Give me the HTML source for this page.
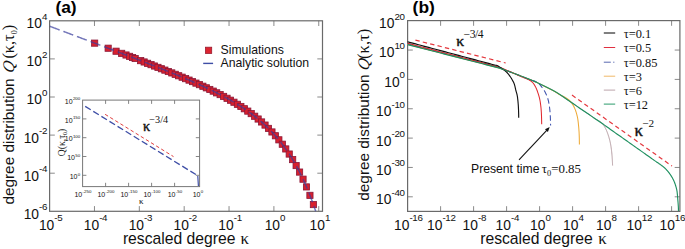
<!DOCTYPE html><html><head><meta charset="utf-8"><style>html,body{margin:0;padding:0;background:#fff;}svg{display:block;font-family:"Liberation Sans",sans-serif;}</style></head><body>
<svg width="685" height="249" viewBox="0 0 685 249">
<rect width="685" height="249" fill="#fff"/>
<path d="M94.46,211.30V206.10M94.46,20.80V26.00" stroke="#8a8a8a" stroke-width="1.0"/>
<path d="M139.32,211.30V206.10M139.32,20.80V26.00" stroke="#8a8a8a" stroke-width="1.0"/>
<path d="M184.18,211.30V206.10M184.18,20.80V26.00" stroke="#8a8a8a" stroke-width="1.0"/>
<path d="M229.04,211.30V206.10M229.04,20.80V26.00" stroke="#8a8a8a" stroke-width="1.0"/>
<path d="M273.90,211.30V206.10M273.90,20.80V26.00" stroke="#8a8a8a" stroke-width="1.0"/>
<path d="M318.76,211.30V206.10M318.76,20.80V26.00" stroke="#8a8a8a" stroke-width="1.0"/>
<path d="M49.60,173.20H54.80M322.50,173.20H317.30" stroke="#8a8a8a" stroke-width="1.0"/>
<path d="M49.60,135.10H54.80M322.50,135.10H317.30" stroke="#8a8a8a" stroke-width="1.0"/>
<path d="M49.60,97.00H54.80M322.50,97.00H317.30" stroke="#8a8a8a" stroke-width="1.0"/>
<path d="M49.60,58.90H54.80M322.50,58.90H317.30" stroke="#8a8a8a" stroke-width="1.0"/>
<rect x="49.60" y="20.80" width="272.90" height="190.50" fill="none" stroke="#6a6a6a" stroke-width="1.2"/>
<text x="38.92" y="229.90" font-size="13.8" fill="#111">10</text>
<text x="54.27" y="221.30" font-size="9.8" fill="#111" letter-spacing="-0.3">-5</text>
<text x="83.78" y="229.90" font-size="13.8" fill="#111">10</text>
<text x="99.13" y="221.30" font-size="9.8" fill="#111" letter-spacing="-0.3">-4</text>
<text x="128.64" y="229.90" font-size="13.8" fill="#111">10</text>
<text x="143.99" y="221.30" font-size="9.8" fill="#111" letter-spacing="-0.3">-3</text>
<text x="173.50" y="229.90" font-size="13.8" fill="#111">10</text>
<text x="188.85" y="221.30" font-size="9.8" fill="#111" letter-spacing="-0.3">-2</text>
<text x="218.36" y="229.90" font-size="13.8" fill="#111">10</text>
<text x="233.71" y="221.30" font-size="9.8" fill="#111" letter-spacing="-0.3">-1</text>
<text x="264.70" y="229.90" font-size="13.8" fill="#111">10</text>
<text x="280.05" y="221.30" font-size="9.8" fill="#111" letter-spacing="-0.3">0</text>
<text x="309.56" y="229.90" font-size="13.8" fill="#111">10</text>
<text x="324.91" y="221.30" font-size="9.8" fill="#111" letter-spacing="-0.3">1</text>
<text x="23.64" y="218.70" font-size="13.8" fill="#111">10</text>
<text x="38.99" y="210.10" font-size="9.8" fill="#111" letter-spacing="-0.3">-6</text>
<text x="23.64" y="180.60" font-size="13.8" fill="#111">10</text>
<text x="38.99" y="172.00" font-size="9.8" fill="#111" letter-spacing="-0.3">-4</text>
<text x="23.64" y="142.50" font-size="13.8" fill="#111">10</text>
<text x="38.99" y="133.90" font-size="9.8" fill="#111" letter-spacing="-0.3">-2</text>
<text x="26.61" y="104.40" font-size="13.8" fill="#111">10</text>
<text x="41.95" y="95.80" font-size="9.8" fill="#111" letter-spacing="-0.3">0</text>
<text x="26.61" y="66.30" font-size="13.8" fill="#111">10</text>
<text x="41.95" y="57.70" font-size="9.8" fill="#111" letter-spacing="-0.3">2</text>
<text x="26.61" y="28.20" font-size="13.8" fill="#111">10</text>
<text x="41.95" y="19.60" font-size="9.8" fill="#111" letter-spacing="-0.3">4</text>
<text x="122.9" y="244.0" font-size="15.7" fill="#111">rescaled degree</text>
<text x="240.4" y="244.0" font-size="16.8" fill="#111" font-family="'Liberation Serif', serif">κ</text>
<text transform="translate(14.1,204.6) rotate(-90)" font-size="15.35" fill="#111">degree distribution</text>
<text transform="translate(14.1,73.6) rotate(-90) skewX(-12)" font-size="16.2" font-style="italic" fill="#111" font-family="'Liberation Serif', serif">Q</text>
<text transform="translate(14.1,58.6) rotate(-90)" font-size="16.3" fill="#111" font-family="'Liberation Serif', serif">(κ,τ<tspan font-size="8" dy="3.2">0</tspan><tspan dy="-3.2">)</tspan></text>
<text x="55.4" y="13.1" font-size="17.4" font-weight="bold" fill="#000">(a)</text>
<rect x="91.56" y="40.03" width="6.2" height="6.2" fill="#d8202e" stroke="#8a1838" stroke-width="0.8"/>
<rect x="105.06" y="45.12" width="6.2" height="6.2" fill="#d8202e" stroke="#8a1838" stroke-width="0.8"/>
<rect x="112.96" y="48.12" width="6.2" height="6.2" fill="#d8202e" stroke="#8a1838" stroke-width="0.8"/>
<rect x="118.57" y="50.25" width="6.2" height="6.2" fill="#d8202e" stroke="#8a1838" stroke-width="0.8"/>
<rect x="122.92" y="51.90" width="6.2" height="6.2" fill="#d8202e" stroke="#8a1838" stroke-width="0.8"/>
<rect x="126.47" y="53.26" width="6.2" height="6.2" fill="#d8202e" stroke="#8a1838" stroke-width="0.8"/>
<rect x="129.47" y="54.41" width="6.2" height="6.2" fill="#d8202e" stroke="#8a1838" stroke-width="0.8"/>
<rect x="132.07" y="55.41" width="6.2" height="6.2" fill="#d8202e" stroke="#8a1838" stroke-width="0.8"/>
<rect x="137.59" y="57.54" width="6.2" height="6.2" fill="#d8202e" stroke="#8a1838" stroke-width="0.8"/>
<rect x="141.04" y="58.87" width="6.2" height="6.2" fill="#d8202e" stroke="#8a1838" stroke-width="0.8"/>
<rect x="144.49" y="60.21" width="6.2" height="6.2" fill="#d8202e" stroke="#8a1838" stroke-width="0.8"/>
<rect x="147.95" y="61.56" width="6.2" height="6.2" fill="#d8202e" stroke="#8a1838" stroke-width="0.8"/>
<rect x="151.40" y="62.92" width="6.2" height="6.2" fill="#d8202e" stroke="#8a1838" stroke-width="0.8"/>
<rect x="154.86" y="64.28" width="6.2" height="6.2" fill="#d8202e" stroke="#8a1838" stroke-width="0.8"/>
<rect x="158.31" y="65.65" width="6.2" height="6.2" fill="#d8202e" stroke="#8a1838" stroke-width="0.8"/>
<rect x="161.77" y="67.03" width="6.2" height="6.2" fill="#d8202e" stroke="#8a1838" stroke-width="0.8"/>
<rect x="165.22" y="68.41" width="6.2" height="6.2" fill="#d8202e" stroke="#8a1838" stroke-width="0.8"/>
<rect x="168.67" y="69.81" width="6.2" height="6.2" fill="#d8202e" stroke="#8a1838" stroke-width="0.8"/>
<rect x="172.13" y="71.22" width="6.2" height="6.2" fill="#d8202e" stroke="#8a1838" stroke-width="0.8"/>
<rect x="175.58" y="72.65" width="6.2" height="6.2" fill="#d8202e" stroke="#8a1838" stroke-width="0.8"/>
<rect x="179.04" y="74.08" width="6.2" height="6.2" fill="#d8202e" stroke="#8a1838" stroke-width="0.8"/>
<rect x="182.49" y="75.54" width="6.2" height="6.2" fill="#d8202e" stroke="#8a1838" stroke-width="0.8"/>
<rect x="185.95" y="77.01" width="6.2" height="6.2" fill="#d8202e" stroke="#8a1838" stroke-width="0.8"/>
<rect x="189.40" y="78.50" width="6.2" height="6.2" fill="#d8202e" stroke="#8a1838" stroke-width="0.8"/>
<rect x="192.85" y="80.02" width="6.2" height="6.2" fill="#d8202e" stroke="#8a1838" stroke-width="0.8"/>
<rect x="196.31" y="81.56" width="6.2" height="6.2" fill="#d8202e" stroke="#8a1838" stroke-width="0.8"/>
<rect x="199.76" y="83.13" width="6.2" height="6.2" fill="#d8202e" stroke="#8a1838" stroke-width="0.8"/>
<rect x="203.22" y="84.73" width="6.2" height="6.2" fill="#d8202e" stroke="#8a1838" stroke-width="0.8"/>
<rect x="206.67" y="86.36" width="6.2" height="6.2" fill="#d8202e" stroke="#8a1838" stroke-width="0.8"/>
<rect x="210.12" y="88.03" width="6.2" height="6.2" fill="#d8202e" stroke="#8a1838" stroke-width="0.8"/>
<rect x="213.58" y="89.74" width="6.2" height="6.2" fill="#d8202e" stroke="#8a1838" stroke-width="0.8"/>
<rect x="217.03" y="91.50" width="6.2" height="6.2" fill="#d8202e" stroke="#8a1838" stroke-width="0.8"/>
<rect x="220.49" y="93.32" width="6.2" height="6.2" fill="#d8202e" stroke="#8a1838" stroke-width="0.8"/>
<rect x="223.94" y="95.18" width="6.2" height="6.2" fill="#d8202e" stroke="#8a1838" stroke-width="0.8"/>
<rect x="227.40" y="97.12" width="6.2" height="6.2" fill="#d8202e" stroke="#8a1838" stroke-width="0.8"/>
<rect x="230.85" y="99.12" width="6.2" height="6.2" fill="#d8202e" stroke="#8a1838" stroke-width="0.8"/>
<rect x="234.30" y="101.20" width="6.2" height="6.2" fill="#d8202e" stroke="#8a1838" stroke-width="0.8"/>
<rect x="237.76" y="103.37" width="6.2" height="6.2" fill="#d8202e" stroke="#8a1838" stroke-width="0.8"/>
<rect x="241.21" y="105.64" width="6.2" height="6.2" fill="#d8202e" stroke="#8a1838" stroke-width="0.8"/>
<rect x="244.67" y="108.02" width="6.2" height="6.2" fill="#d8202e" stroke="#8a1838" stroke-width="0.8"/>
<rect x="248.12" y="110.51" width="6.2" height="6.2" fill="#d8202e" stroke="#8a1838" stroke-width="0.8"/>
<rect x="251.58" y="113.14" width="6.2" height="6.2" fill="#d8202e" stroke="#8a1838" stroke-width="0.8"/>
<rect x="255.03" y="115.92" width="6.2" height="6.2" fill="#d8202e" stroke="#8a1838" stroke-width="0.8"/>
<rect x="258.48" y="118.86" width="6.2" height="6.2" fill="#d8202e" stroke="#8a1838" stroke-width="0.8"/>
<rect x="261.94" y="121.98" width="6.2" height="6.2" fill="#d8202e" stroke="#8a1838" stroke-width="0.8"/>
<rect x="265.39" y="125.31" width="6.2" height="6.2" fill="#d8202e" stroke="#8a1838" stroke-width="0.8"/>
<rect x="268.85" y="128.86" width="6.2" height="6.2" fill="#d8202e" stroke="#8a1838" stroke-width="0.8"/>
<rect x="272.30" y="132.66" width="6.2" height="6.2" fill="#d8202e" stroke="#8a1838" stroke-width="0.8"/>
<rect x="275.76" y="136.73" width="6.2" height="6.2" fill="#d8202e" stroke="#8a1838" stroke-width="0.8"/>
<rect x="279.21" y="141.12" width="6.2" height="6.2" fill="#d8202e" stroke="#8a1838" stroke-width="0.8"/>
<rect x="282.66" y="145.84" width="6.2" height="6.2" fill="#d8202e" stroke="#8a1838" stroke-width="0.8"/>
<rect x="286.12" y="150.95" width="6.2" height="6.2" fill="#d8202e" stroke="#8a1838" stroke-width="0.8"/>
<rect x="289.57" y="156.48" width="6.2" height="6.2" fill="#d8202e" stroke="#8a1838" stroke-width="0.8"/>
<rect x="293.03" y="162.47" width="6.2" height="6.2" fill="#d8202e" stroke="#8a1838" stroke-width="0.8"/>
<rect x="296.48" y="168.98" width="6.2" height="6.2" fill="#d8202e" stroke="#8a1838" stroke-width="0.8"/>
<rect x="299.93" y="176.08" width="6.2" height="6.2" fill="#d8202e" stroke="#8a1838" stroke-width="0.8"/>
<rect x="303.39" y="183.81" width="6.2" height="6.2" fill="#d8202e" stroke="#8a1838" stroke-width="0.8"/>
<rect x="306.84" y="192.25" width="6.2" height="6.2" fill="#d8202e" stroke="#8a1838" stroke-width="0.8"/>
<rect x="310.30" y="201.48" width="6.2" height="6.2" fill="#d8202e" stroke="#8a1838" stroke-width="0.8"/>
<path d="M49.80,26.30 L50.34,26.50 L50.88,26.70 L51.42,26.90 L51.96,27.10 L52.50,27.31 L53.04,27.51 L53.58,27.71 L54.12,27.91 L54.65,28.11 L55.19,28.32 L55.73,28.52 L56.27,28.72 L56.81,28.92 L57.35,29.12 L57.89,29.33 L58.43,29.53 L58.97,29.73 L59.51,29.93 L60.05,30.13 L60.59,30.34 L61.13,30.54 L61.67,30.74 L62.21,30.94 L62.75,31.14 L63.28,31.35 L63.82,31.55 L64.36,31.75 L64.90,31.95 L65.44,32.15 L65.98,32.36 L66.52,32.56 L67.06,32.76 L67.60,32.96 L68.14,33.17 L68.68,33.37 L69.22,33.57 L69.76,33.77 L70.30,33.97 L70.84,34.18 L71.38,34.38 L71.92,34.58 L72.45,34.78 L72.99,34.99 L73.53,35.19 L74.07,35.39 L74.61,35.59 L75.15,35.80 L75.69,36.00 L76.23,36.20 L76.77,36.40 L77.31,36.60 L77.85,36.81 L78.39,37.01 L78.93,37.21 L79.47,37.41 L80.01,37.62 L80.55,37.82 L81.09,38.02 L81.62,38.23 L82.16,38.43 L82.70,38.63 L83.24,38.83 L83.78,39.04 L84.32,39.24 L84.86,39.44 L85.40,39.64 L85.94,39.85 L86.48,40.05 L87.02,40.25 L87.56,40.45 L88.10,40.66 L88.64,40.86 L89.18,41.06 L89.72,41.27 L90.25,41.47 L90.79,41.67 L91.33,41.88 L91.87,42.08 L92.41,42.28 L92.95,42.48 L93.49,42.69 L94.03,42.89 L94.57,43.09 L95.11,43.30 L95.65,43.50 L96.19,43.70 L96.73,43.91 L97.27,44.11 L97.81,44.31 L98.35,44.52 L98.89,44.72 L99.42,44.92 L99.96,45.13 L100.50,45.33 L101.04,45.53 L101.58,45.74 L102.12,45.94 L102.66,46.14 L103.20,46.35 L103.74,46.55 L104.28,46.76 L104.82,46.96 L105.36,47.16 L105.90,47.37 L106.44,47.57 L106.98,47.77 L107.52,47.98 L108.06,48.18 L108.59,48.39 L109.13,48.59 L109.67,48.80 L110.21,49.00 L110.75,49.20 L111.29,49.41 L111.83,49.61 L112.37,49.82 L112.91,50.02 L113.45,50.23 L113.99,50.43 L114.53,50.63 L115.07,50.84 L115.61,51.04 L116.15,51.25 L116.69,51.45 L117.22,51.66 L117.76,51.86 L118.30,52.07 L118.84,52.27 L119.38,52.48 L119.92,52.68 L120.46,52.89 L121.00,53.09 L121.54,53.30 L122.08,53.50 L122.62,53.71 L123.16,53.91 L123.70,54.12 L124.24,54.33 L124.78,54.53 L125.32,54.74 L125.86,54.94 L126.39,55.15 L126.93,55.36 L127.47,55.56 L128.01,55.77 L128.55,55.97 L129.09,56.18 L129.63,56.39 L130.17,56.59 L130.71,56.80 L131.25,57.01 L131.79,57.21 L132.33,57.42 L132.87,57.63 L133.41,57.83 L133.95,58.04 L134.49,58.25 L135.03,58.45 L135.56,58.66 L136.10,58.87 L136.64,59.08 L137.18,59.28 L137.72,59.49 L138.26,59.70 L138.80,59.91 L139.34,60.12 L139.88,60.32 L140.42,60.53 L140.96,60.74 L141.50,60.95 L142.04,61.16 L142.58,61.37 L143.12,61.58 L143.66,61.78 L144.19,61.99 L144.73,62.20 L145.27,62.41 L145.81,62.62 L146.35,62.83 L146.89,63.04 L147.43,63.25 L147.97,63.46 L148.51,63.67 L149.05,63.88 L149.59,64.09 L150.13,64.30 L150.67,64.51 L151.21,64.72 L151.75,64.94 L152.29,65.15 L152.83,65.36 L153.36,65.57 L153.90,65.78 L154.44,65.99 L154.98,66.21 L155.52,66.42 L156.06,66.63 L156.60,66.84 L157.14,67.06 L157.68,67.27 L158.22,67.48 L158.76,67.70 L159.30,67.91 L159.84,68.12 L160.38,68.34 L160.92,68.55 L161.46,68.76 L161.99,68.98 L162.53,69.19 L163.07,69.41 L163.61,69.62 L164.15,69.84 L164.69,70.06 L165.23,70.27 L165.77,70.49 L166.31,70.70 L166.85,70.92 L167.39,71.14 L167.93,71.35 L168.47,71.57 L169.01,71.79 L169.55,72.01 L170.09,72.23 L170.63,72.44 L171.16,72.66 L171.70,72.88 L172.24,73.10 L172.78,73.32 L173.32,73.54 L173.86,73.76 L174.40,73.98 L174.94,74.20 L175.48,74.42 L176.02,74.65 L176.56,74.87 L177.10,75.09 L177.64,75.31 L178.18,75.54 L178.72,75.76 L179.26,75.98 L179.80,76.21 L180.33,76.43 L180.87,76.66 L181.41,76.88 L181.95,77.11 L182.49,77.33 L183.03,77.56 L183.57,77.79 L184.11,78.01 L184.65,78.24 L185.19,78.47 L185.73,78.70 L186.27,78.93 L186.81,79.15 L187.35,79.38 L187.89,79.61 L188.43,79.85 L188.96,80.08 L189.50,80.31 L190.04,80.54 L190.58,80.77 L191.12,81.01 L191.66,81.24 L192.20,81.47 L192.74,81.71 L193.28,81.94 L193.82,82.18 L194.36,82.42 L194.90,82.65 L195.44,82.89 L195.98,83.13 L196.52,83.37 L197.06,83.61 L197.60,83.85 L198.13,84.09 L198.67,84.33 L199.21,84.57 L199.75,84.82 L200.29,85.06 L200.83,85.30 L201.37,85.55 L201.91,85.79 L202.45,86.04 L202.99,86.29 L203.53,86.53 L204.07,86.78 L204.61,87.03 L205.15,87.28 L205.69,87.53 L206.23,87.79 L206.77,88.04 L207.30,88.29 L207.84,88.55 L208.38,88.80 L208.92,89.06 L209.46,89.31 L210.00,89.57 L210.54,89.83 L211.08,90.09 L211.62,90.35 L212.16,90.61 L212.70,90.87 L213.24,91.14 L213.78,91.40 L214.32,91.67 L214.86,91.93 L215.40,92.20 L215.93,92.47 L216.47,92.74 L217.01,93.01 L217.55,93.28 L218.09,93.56 L218.63,93.83 L219.17,94.11 L219.71,94.39 L220.25,94.66 L220.79,94.94 L221.33,95.22 L221.87,95.51 L222.41,95.79 L222.95,96.08 L223.49,96.36 L224.03,96.65 L224.57,96.94 L225.10,97.23 L225.64,97.52 L226.18,97.81 L226.72,98.11 L227.26,98.41 L227.80,98.70 L228.34,99.00 L228.88,99.30 L229.42,99.61 L229.96,99.91 L230.50,100.22 L231.04,100.53 L231.58,100.84 L232.12,101.15 L232.66,101.46 L233.20,101.78 L233.73,102.09 L234.27,102.41 L234.81,102.73 L235.35,103.06 L235.89,103.38 L236.43,103.71 L236.97,104.04 L237.51,104.37 L238.05,104.70 L238.59,105.04 L239.13,105.38 L239.67,105.72 L240.21,106.06 L240.75,106.40 L241.29,106.75 L241.83,107.10 L242.37,107.45 L242.90,107.81 L243.44,108.16 L243.98,108.52 L244.52,108.88 L245.06,109.25 L245.60,109.62 L246.14,109.99 L246.68,110.36 L247.22,110.73 L247.76,111.11 L248.30,111.49 L248.84,111.88 L249.38,112.27 L249.92,112.66 L250.46,113.05 L251.00,113.45 L251.54,113.85 L252.07,114.25 L252.61,114.66 L253.15,115.07 L253.69,115.48 L254.23,115.90 L254.77,116.32 L255.31,116.74 L255.85,117.17 L256.39,117.60 L256.93,118.04 L257.47,118.47 L258.01,118.92 L258.55,119.36 L259.09,119.82 L259.63,120.27 L260.17,120.73 L260.70,121.19 L261.24,121.66 L261.78,122.13 L262.32,122.61 L262.86,123.09 L263.40,123.58 L263.94,124.07 L264.48,124.56 L265.02,125.06 L265.56,125.57 L266.10,126.08 L266.64,126.60 L267.18,127.12 L267.72,127.64 L268.26,128.17 L268.80,128.71 L269.34,129.25 L269.87,129.80 L270.41,130.35 L270.95,130.91 L271.49,131.48 L272.03,132.05 L272.57,132.62 L273.11,133.21 L273.65,133.80 L274.19,134.39 L274.73,135.00 L275.27,135.61 L275.81,136.22 L276.35,136.84 L276.89,137.47 L277.43,138.11 L277.97,138.76 L278.51,139.41 L279.04,140.06 L279.58,140.73 L280.12,141.41 L280.66,142.09 L281.20,142.78 L281.74,143.47 L282.28,144.18 L282.82,144.89 L283.36,145.62 L283.90,146.35 L284.44,147.09 L284.98,147.84 L285.52,148.59 L286.06,149.36 L286.60,150.14 L287.14,150.92 L287.67,151.72 L288.21,152.52 L288.75,153.34 L289.29,154.16 L289.83,155.00 L290.37,155.85 L290.91,156.70 L291.45,157.57 L291.99,158.45 L292.53,159.34 L293.07,160.24 L293.61,161.15 L294.15,162.08 L294.69,163.01 L295.23,163.96 L295.77,164.92 L296.31,165.89 L296.84,166.88 L297.38,167.88 L297.92,168.89 L298.46,169.92 L299.00,170.96 L299.54,172.01 L300.08,173.08 L300.62,174.16 L301.16,175.25 L301.70,176.36 L302.24,177.49 L302.78,178.63 L303.32,179.78 L303.86,180.96 L304.40,182.14 L304.94,183.35 L305.48,184.57 L306.01,185.80 L306.55,187.06 L307.09,188.33 L307.63,189.62 L308.17,190.93 L308.71,192.25 L309.25,193.60 L309.79,194.96 L310.33,196.34 L310.87,197.74 L311.41,199.17 L311.95,200.61 L312.49,202.07 L313.03,203.55 L313.57,205.06 L314.11,206.58 L314.64,208.13 L315.18,209.70 L315.72,211.29" fill="none" stroke="#3a3f9c" stroke-opacity="0.7" stroke-width="1.5" stroke-dasharray="10.5,4"/>
<rect x="205.5" y="47.2" width="6.2" height="6.2" fill="#dc2430" stroke="#9a1a2e" stroke-width="0.8"/>
<path d="M203.2,63.4H213.1" stroke="#3e4ea6" stroke-width="1.4"/>
<text x="220.5" y="54.2" font-size="12.25" fill="#111">Simulations</text>
<text x="220.5" y="66.5" font-size="12.25" fill="#111">Analytic solution</text>
<rect x="82.6" y="100.1" width="117.0" height="86.5" fill="#fff"/>
<path d="M105.60,186.60V182.80M105.60,100.10V103.90" stroke="#777" stroke-width="0.9"/>
<path d="M128.60,186.60V182.80M128.60,100.10V103.90" stroke="#777" stroke-width="0.9"/>
<path d="M151.60,186.60V182.80M151.60,100.10V103.90" stroke="#777" stroke-width="0.9"/>
<path d="M174.60,186.60V182.80M174.60,100.10V103.90" stroke="#777" stroke-width="0.9"/>
<path d="M82.60,175.30H86.40M199.60,175.30H195.80" stroke="#777" stroke-width="0.9"/>
<path d="M82.60,156.50H86.40M199.60,156.50H195.80" stroke="#777" stroke-width="0.9"/>
<path d="M82.60,137.70H86.40M199.60,137.70H195.80" stroke="#777" stroke-width="0.9"/>
<path d="M82.60,118.90H86.40M199.60,118.90H195.80" stroke="#777" stroke-width="0.9"/>
<rect x="82.60" y="100.10" width="117.00" height="86.50" fill="none" stroke="#777" stroke-width="1.0"/>
<text x="74.46" y="197.0" font-size="7" fill="#111">10</text>
<text x="82.56" y="192.6" font-size="4.4" fill="#111">-250</text>
<text x="97.46" y="197.0" font-size="7" fill="#111">10</text>
<text x="105.56" y="192.6" font-size="4.4" fill="#111">-200</text>
<text x="120.46" y="197.0" font-size="7" fill="#111">10</text>
<text x="128.56" y="192.6" font-size="4.4" fill="#111">-150</text>
<text x="143.46" y="197.0" font-size="7" fill="#111">10</text>
<text x="151.56" y="192.6" font-size="4.4" fill="#111">-100</text>
<text x="167.68" y="197.0" font-size="7" fill="#111">10</text>
<text x="175.78" y="192.6" font-size="4.4" fill="#111">-50</text>
<text x="192.63" y="197.0" font-size="7" fill="#111">10</text>
<text x="200.73" y="192.6" font-size="4.4" fill="#111">0</text>
<text x="69.67" y="178.90" font-size="7" fill="#111">10</text>
<text x="77.77" y="175.60" font-size="4.4" fill="#111">0</text>
<text x="67.22" y="160.10" font-size="7" fill="#111">10</text>
<text x="75.32" y="156.80" font-size="4.4" fill="#111">50</text>
<text x="64.78" y="141.30" font-size="7" fill="#111">10</text>
<text x="72.88" y="138.00" font-size="4.4" fill="#111">100</text>
<text x="64.78" y="122.50" font-size="7" fill="#111">10</text>
<text x="72.88" y="119.20" font-size="4.4" fill="#111">150</text>
<text x="64.78" y="103.70" font-size="7" fill="#111">10</text>
<text x="72.88" y="100.40" font-size="4.4" fill="#111">200</text>
<text x="139.0" y="204.3" font-size="9" font-family="'Liberation Serif', serif" fill="#111">κ</text>
<text transform="translate(65.0,156.2) rotate(-90)" font-size="9.6" font-family="'Liberation Serif', serif" fill="#111">Q(κ,τ<tspan font-size="5.8" dy="2">0</tspan><tspan dy="-2">)</tspan></text>
<path d="M85.2,106.4L197.6,175.6" stroke="#3e4ea6" stroke-width="1.3" stroke-dasharray="6.5,3"/>
<path d="M197.8,176L198.4,186" stroke="#3e4ea6" stroke-width="1.2"/>
<path d="M105.1,114.3L173.5,156.6" stroke="#e04040" stroke-width="1.0" stroke-dasharray="3.5,2.5"/>
<text x="142.9" y="131.4" font-size="14.2" font-family="'Liberation Serif', serif" fill="#111" stroke="#111" stroke-width="0.4">κ</text>
<text x="149.3" y="122.6" font-size="10.2" font-family="'Liberation Serif', serif" fill="#111">−3/4</text>
<path d="M440.60,211.40V206.20M440.60,20.60V25.80" stroke="#8a8a8a" stroke-width="1.0"/>
<path d="M473.60,211.40V206.20M473.60,20.60V25.80" stroke="#8a8a8a" stroke-width="1.0"/>
<path d="M506.60,211.40V206.20M506.60,20.60V25.80" stroke="#8a8a8a" stroke-width="1.0"/>
<path d="M539.60,211.40V206.20M539.60,20.60V25.80" stroke="#8a8a8a" stroke-width="1.0"/>
<path d="M572.60,211.40V206.20M572.60,20.60V25.80" stroke="#8a8a8a" stroke-width="1.0"/>
<path d="M605.60,211.40V206.20M605.60,20.60V25.80" stroke="#8a8a8a" stroke-width="1.0"/>
<path d="M638.60,211.40V206.20M638.60,20.60V25.80" stroke="#8a8a8a" stroke-width="1.0"/>
<path d="M671.60,211.40V206.20M671.60,20.60V25.80" stroke="#8a8a8a" stroke-width="1.0"/>
<path d="M407.60,196.80H412.80M679.90,196.80H674.70" stroke="#8a8a8a" stroke-width="1.0"/>
<path d="M407.60,167.45H412.80M679.90,167.45H674.70" stroke="#8a8a8a" stroke-width="1.0"/>
<path d="M407.60,138.10H412.80M679.90,138.10H674.70" stroke="#8a8a8a" stroke-width="1.0"/>
<path d="M407.60,108.75H412.80M679.90,108.75H674.70" stroke="#8a8a8a" stroke-width="1.0"/>
<path d="M407.60,79.40H412.80M679.90,79.40H674.70" stroke="#8a8a8a" stroke-width="1.0"/>
<path d="M407.60,50.05H412.80M679.90,50.05H674.70" stroke="#8a8a8a" stroke-width="1.0"/>
<rect x="407.60" y="20.60" width="272.30" height="190.80" fill="none" stroke="#6a6a6a" stroke-width="1.2"/>
<text x="394.05" y="229.90" font-size="13.8" fill="#111">10</text>
<text x="409.39" y="221.30" font-size="9.8" fill="#111" letter-spacing="-0.3">-16</text>
<text x="427.05" y="229.90" font-size="13.8" fill="#111">10</text>
<text x="442.39" y="221.30" font-size="9.8" fill="#111" letter-spacing="-0.3">-12</text>
<text x="462.62" y="229.90" font-size="13.8" fill="#111">10</text>
<text x="477.97" y="221.30" font-size="9.8" fill="#111" letter-spacing="-0.3">-8</text>
<text x="495.62" y="229.90" font-size="13.8" fill="#111">10</text>
<text x="510.97" y="221.30" font-size="9.8" fill="#111" letter-spacing="-0.3">-4</text>
<text x="530.10" y="229.90" font-size="13.8" fill="#111">10</text>
<text x="545.45" y="221.30" font-size="9.8" fill="#111" letter-spacing="-0.3">0</text>
<text x="563.10" y="229.90" font-size="13.8" fill="#111">10</text>
<text x="578.45" y="221.30" font-size="9.8" fill="#111" letter-spacing="-0.3">4</text>
<text x="596.10" y="229.90" font-size="13.8" fill="#111">10</text>
<text x="611.45" y="221.30" font-size="9.8" fill="#111" letter-spacing="-0.3">8</text>
<text x="626.53" y="229.90" font-size="13.8" fill="#111">10</text>
<text x="641.87" y="221.30" font-size="9.8" fill="#111" letter-spacing="-0.3">12</text>
<text x="659.53" y="229.90" font-size="13.8" fill="#111">10</text>
<text x="674.87" y="221.30" font-size="9.8" fill="#111" letter-spacing="-0.3">16</text>
<text x="376.09" y="204.20" font-size="13.8" fill="#111">10</text>
<text x="391.44" y="195.60" font-size="9.8" fill="#111" letter-spacing="-0.3">-40</text>
<text x="376.09" y="174.85" font-size="13.8" fill="#111">10</text>
<text x="391.44" y="166.25" font-size="9.8" fill="#111" letter-spacing="-0.3">-30</text>
<text x="376.09" y="145.50" font-size="13.8" fill="#111">10</text>
<text x="391.44" y="136.90" font-size="9.8" fill="#111" letter-spacing="-0.3">-20</text>
<text x="376.09" y="116.15" font-size="13.8" fill="#111">10</text>
<text x="391.44" y="107.55" font-size="9.8" fill="#111" letter-spacing="-0.3">-10</text>
<text x="384.21" y="86.80" font-size="13.8" fill="#111">10</text>
<text x="399.55" y="78.20" font-size="9.8" fill="#111" letter-spacing="-0.3">0</text>
<text x="379.06" y="57.45" font-size="13.8" fill="#111">10</text>
<text x="394.40" y="48.85" font-size="9.8" fill="#111" letter-spacing="-0.3">10</text>
<text x="379.06" y="28.10" font-size="13.8" fill="#111">10</text>
<text x="394.40" y="19.50" font-size="9.8" fill="#111" letter-spacing="-0.3">20</text>
<text x="480.2" y="244.0" font-size="15.7" fill="#111">rescaled degree</text>
<text x="598.2" y="244.0" font-size="16.8" fill="#111" font-family="'Liberation Serif', serif">κ</text>
<text transform="translate(369.3,200.7) rotate(-90)" font-size="15.35" fill="#111">degree distribution</text>
<text transform="translate(369.3,71.0) rotate(-90) skewX(-12)" font-size="16.2" font-style="italic" fill="#111" font-family="'Liberation Serif', serif">Q</text>
<text transform="translate(369.3,58.9) rotate(-90)" font-size="16.5" fill="#111" font-family="'Liberation Serif', serif">(κ,τ)</text>
<text x="412.6" y="13.1" font-size="17.4" font-weight="bold" fill="#000">(b)</text>
<path d="M415.4,40.1L505.7,63.0" stroke="#e4393f" stroke-width="1.2" stroke-dasharray="4.4,3.2"/>
<path d="M572,95.1L672,166.1" stroke="#e4393f" stroke-width="1.2" stroke-dasharray="4.4,3.2"/>
<path d="M407.60,44.40 L409.60,44.91 L411.60,45.43 L413.60,45.94 L415.60,46.45 L417.60,46.97 L419.60,47.48 L421.60,47.99 L423.60,48.51 L425.60,49.02 L427.60,49.54 L429.60,50.05 L431.60,50.56 L433.60,51.08 L435.60,51.59 L437.60,52.10 L439.60,52.62 L441.60,53.13 L443.60,53.64 L445.60,54.16 L447.60,54.67 L449.60,55.18 L451.60,55.70 L453.60,56.21 L455.60,56.72 L457.60,57.24 L459.60,57.75 L461.60,58.26 L463.60,58.78 L465.60,59.29 L467.60,59.81 L469.60,60.32 L471.60,60.83 L473.60,61.35 L475.60,61.86 L477.60,62.37 L479.60,62.89 L481.60,63.40 L483.60,63.91 L485.60,64.43 L487.60,64.94 L489.60,65.45 L491.60,65.97 L493.60,66.48 L495.60,66.99 L497.60,67.51 L499.60,68.02 L501.60,68.73 L503.60,69.49 L505.60,70.24 L507.60,71.00 L509.60,71.76 L511.60,72.51 L513.60,73.27 L515.60,74.03 L517.60,74.81 L519.60,75.59 L521.60,76.37 L523.60,77.15 L525.60,77.93 L527.60,78.71 L529.60,79.49 L531.60,80.27 L533.60,81.05 L535.60,81.90 L537.60,82.90 L539.60,83.90 L541.60,84.90 L543.60,85.90 L545.60,86.90 L547.60,87.90 L549.60,88.90 L551.60,89.90 L553.60,90.90 L555.60,92.00 L557.60,93.32 L559.60,94.64 L561.60,95.96 L563.60,97.28 L565.60,98.60 L567.60,99.92 L569.60,101.24 L571.60,102.60 L573.60,103.97 L575.60,105.35 L577.60,106.72 L579.60,108.09 L581.60,109.47 L583.60,110.84 L585.60,112.21 L587.60,113.57 L589.60,114.93 L591.60,116.29 L593.60,117.65 L593.70,117.72 L593.81,117.80 L593.94,117.89 L594.08,118.00 L594.25,118.12 L594.44,118.25 L594.67,118.41 L594.94,118.58 L595.25,118.78 L595.60,119.01 L596.02,119.26 L596.52,119.53 L597.07,119.82 L597.67,120.14 L598.29,120.47 L598.92,120.82 L599.54,121.19 L600.14,121.58 L600.70,121.98 L601.20,122.40 L601.66,122.84 L602.10,123.30 L602.51,123.79 L602.91,124.30 L603.29,124.82 L603.66,125.35 L604.01,125.89 L604.35,126.43 L604.68,126.97 L605.00,127.50 L605.30,128.02 L605.59,128.54 L605.85,129.06 L606.10,129.58 L606.34,130.10 L606.58,130.64 L606.81,131.19 L607.03,131.77 L607.26,132.37 L607.50,133.00 L607.74,133.67 L607.99,134.37 L608.23,135.10 L608.48,135.86 L608.72,136.62 L608.95,137.40 L609.18,138.19 L609.40,138.97 L609.61,139.74 L609.80,140.50 L609.98,141.25 L610.15,141.98 L610.30,142.72 L610.45,143.45 L610.59,144.19 L610.72,144.93 L610.85,145.68 L610.97,146.44 L611.08,147.21 L611.20,148.00 L611.31,148.81 L611.42,149.63 L611.52,150.46 L611.62,151.30 L611.71,152.16 L611.79,153.02 L611.88,153.88 L611.95,154.75 L612.03,155.63 L612.10,156.50 L612.17,157.42 L612.23,158.41 L612.30,159.45 L612.35,160.50 L612.41,161.53 L612.46,162.52 L612.50,163.45 L612.54,164.27 L612.57,164.96 L612.60,165.50" fill="none" stroke="#b49aa0" stroke-width="1.0" stroke-linejoin="round"/>
<path d="M407.60,44.30 L409.60,44.81 L411.60,45.33 L413.60,45.84 L415.60,46.36 L417.60,46.87 L419.60,47.39 L421.60,47.90 L423.60,48.41 L425.60,48.93 L427.60,49.44 L429.60,49.96 L431.60,50.47 L433.60,50.99 L435.60,51.50 L437.60,52.01 L439.60,52.53 L441.60,53.04 L443.60,53.56 L445.60,54.07 L447.60,54.59 L449.60,55.10 L451.60,55.61 L453.60,56.13 L455.60,56.64 L457.60,57.16 L459.60,57.67 L461.60,58.19 L463.60,58.70 L465.60,59.21 L467.60,59.73 L469.60,60.24 L471.60,60.76 L473.60,61.27 L475.60,61.78 L477.60,62.30 L479.60,62.81 L481.60,63.33 L483.60,63.84 L485.60,64.36 L487.60,64.87 L489.60,65.38 L491.60,65.90 L493.60,66.41 L495.60,66.93 L497.60,67.44 L499.60,67.96 L501.60,68.67 L503.60,69.44 L505.60,70.20 L507.60,70.97 L509.60,71.73 L511.60,72.50 L513.60,73.26 L515.60,74.03 L517.60,74.81 L519.60,75.59 L521.60,76.37 L523.60,77.15 L525.60,77.93 L527.60,78.71 L529.60,79.49 L531.60,80.27 L533.60,81.05 L535.60,81.90 L537.60,82.90 L539.60,83.90 L541.60,84.90 L543.60,85.90 L545.60,86.90 L547.60,87.90 L549.60,88.90 L551.60,89.90 L553.60,90.90 L555.60,92.00 L557.60,93.32 L557.70,93.39 L557.81,93.47 L557.93,93.56 L558.07,93.67 L558.23,93.79 L558.42,93.93 L558.65,94.08 L558.92,94.25 L559.23,94.43 L559.60,94.64 L560.04,94.86 L560.54,95.11 L561.11,95.37 L561.72,95.65 L562.36,95.95 L563.01,96.26 L563.67,96.58 L564.31,96.91 L564.92,97.25 L565.50,97.60 L566.05,97.94 L566.59,98.29 L567.12,98.63 L567.64,98.98 L568.16,99.35 L568.66,99.73 L569.16,100.15 L569.65,100.59 L570.13,101.07 L570.60,101.60 L571.06,102.17 L571.52,102.79 L571.98,103.44 L572.42,104.12 L572.86,104.82 L573.28,105.56 L573.69,106.30 L574.08,107.06 L574.45,107.83 L574.80,108.60 L575.13,109.38 L575.44,110.18 L575.74,111.00 L576.02,111.83 L576.29,112.67 L576.54,113.53 L576.77,114.39 L577.00,115.26 L577.20,116.13 L577.40,117.00 L577.58,117.88 L577.74,118.76 L577.88,119.66 L578.01,120.56 L578.12,121.46 L578.23,122.37 L578.33,123.28 L578.42,124.19 L578.51,125.10 L578.60,126.00 L578.69,126.90 L578.76,127.79 L578.84,128.69 L578.90,129.58 L578.96,130.47 L579.02,131.37 L579.07,132.27 L579.12,133.17 L579.16,134.08 L579.20,135.00 L579.24,135.97 L579.27,137.00 L579.30,138.09 L579.32,139.18 L579.34,140.26 L579.35,141.30 L579.37,142.26 L579.38,143.12 L579.39,143.84 L579.40,144.40" fill="none" stroke="#eeaa38" stroke-width="1.05" stroke-linejoin="round"/>
<path d="M407.60,43.80 L409.60,44.32 L411.60,44.84 L413.60,45.35 L415.60,45.87 L417.60,46.39 L419.60,46.91 L421.60,47.43 L423.60,47.94 L425.60,48.46 L427.60,48.98 L429.60,49.50 L431.60,50.02 L433.60,50.53 L435.60,51.05 L437.60,51.57 L439.60,52.09 L441.60,52.61 L443.60,53.12 L445.60,53.64 L447.60,54.16 L449.60,54.68 L451.60,55.20 L453.60,55.72 L455.60,56.23 L457.60,56.75 L459.60,57.27 L461.60,57.79 L463.60,58.31 L465.60,58.82 L467.60,59.34 L469.60,59.86 L471.60,60.38 L473.60,60.90 L475.60,61.41 L477.60,61.93 L479.60,62.45 L481.60,62.97 L483.60,63.49 L485.60,64.00 L487.60,64.52 L489.60,65.04 L491.60,65.56 L493.60,66.08 L495.60,66.59 L497.60,67.11 L499.60,67.63 L501.60,68.38 L503.60,69.19 L505.60,70.00 L507.60,70.81 L509.60,71.62 L511.60,72.43 L513.60,73.23 L515.60,74.03 L517.60,74.81 L519.60,75.59 L521.60,76.37 L523.60,77.15 L525.60,77.93 L527.60,78.71 L529.60,79.49 L529.70,79.53 L529.81,79.58 L529.93,79.63 L530.07,79.69 L530.23,79.75 L530.42,79.83 L530.65,79.92 L530.92,80.02 L531.23,80.14 L531.60,80.27 L532.04,80.42 L532.54,80.55 L533.11,80.69 L533.71,80.85 L534.35,81.02 L535.00,81.21 L535.66,81.44 L536.30,81.71 L536.92,82.03 L537.50,82.40 L538.06,82.84 L538.62,83.35 L539.17,83.91 L539.73,84.51 L540.27,85.15 L540.80,85.79 L541.31,86.45 L541.80,87.09 L542.26,87.71 L542.70,88.30 L543.11,88.86 L543.48,89.40 L543.84,89.93 L544.17,90.45 L544.48,90.97 L544.78,91.50 L545.07,92.03 L545.35,92.57 L545.63,93.13 L545.90,93.70 L546.17,94.29 L546.43,94.88 L546.68,95.47 L546.93,96.07 L547.16,96.69 L547.39,97.31 L547.60,97.96 L547.81,98.62 L548.01,99.30 L548.20,100.00 L548.38,100.73 L548.55,101.49 L548.71,102.28 L548.86,103.08 L549.00,103.89 L549.13,104.72 L549.26,105.55 L549.38,106.37 L549.49,107.19 L549.60,108.00 L549.70,108.79 L549.79,109.58 L549.87,110.35 L549.95,111.13 L550.02,111.91 L550.08,112.69 L550.14,113.49 L550.20,114.30 L550.25,115.14 L550.30,116.00 L550.35,116.93 L550.39,117.96 L550.43,119.04 L550.46,120.15 L550.49,121.25 L550.52,122.31 L550.54,123.30 L550.57,124.18 L550.58,124.93 L550.60,125.50" fill="none" stroke="#4458b0" stroke-width="1.1" stroke-dasharray="5.6,3" stroke-linejoin="round"/>
<path d="M407.60,43.30 L409.60,43.82 L411.60,44.34 L413.60,44.87 L415.60,45.39 L417.60,45.91 L419.60,46.43 L421.60,46.95 L423.60,47.47 L425.60,48.00 L427.60,48.52 L429.60,49.04 L431.60,49.56 L433.60,50.08 L435.60,50.61 L437.60,51.13 L439.60,51.65 L441.60,52.17 L443.60,52.69 L445.60,53.21 L447.60,53.74 L449.60,54.26 L451.60,54.78 L453.60,55.30 L455.60,55.82 L457.60,56.35 L459.60,56.87 L461.60,57.39 L463.60,57.91 L465.60,58.43 L467.60,58.96 L469.60,59.48 L471.60,60.00 L473.60,60.52 L475.60,61.04 L477.60,61.56 L479.60,62.09 L481.60,62.61 L483.60,63.13 L485.60,63.65 L487.60,64.17 L489.60,64.70 L491.60,65.22 L493.60,65.74 L495.60,66.26 L497.60,66.78 L499.60,67.30 L501.60,68.09 L503.60,68.94 L505.60,69.79 L507.60,70.65 L509.60,71.50 L511.60,72.35 L513.60,73.20 L513.70,73.25 L513.82,73.29 L513.95,73.34 L514.09,73.40 L514.26,73.46 L514.46,73.54 L514.69,73.64 L514.95,73.75 L515.25,73.88 L515.60,74.03 L516.00,74.22 L516.47,74.43 L516.98,74.67 L517.53,74.92 L518.11,75.19 L518.71,75.46 L519.30,75.74 L519.89,76.00 L520.46,76.26 L521.00,76.50 L521.51,76.72 L522.01,76.93 L522.51,77.13 L523.00,77.32 L523.48,77.52 L523.97,77.71 L524.46,77.92 L524.96,78.13 L525.47,78.36 L526.00,78.60 L526.55,78.85 L527.12,79.10 L527.72,79.36 L528.32,79.62 L528.92,79.89 L529.52,80.18 L530.10,80.50 L530.66,80.83 L531.20,81.20 L531.70,81.60 L532.17,82.04 L532.62,82.51 L533.04,83.00 L533.45,83.52 L533.84,84.07 L534.22,84.63 L534.58,85.21 L534.93,85.80 L535.27,86.40 L535.60,87.00 L535.92,87.62 L536.22,88.26 L536.50,88.93 L536.78,89.61 L537.04,90.29 L537.29,90.99 L537.53,91.68 L537.76,92.36 L537.98,93.04 L538.20,93.70 L538.41,94.34 L538.61,94.96 L538.80,95.57 L538.97,96.17 L539.14,96.77 L539.31,97.38 L539.46,98.00 L539.61,98.64 L539.76,99.30 L539.90,100.00 L540.04,100.73 L540.17,101.49 L540.29,102.28 L540.41,103.08 L540.52,103.89 L540.63,104.72 L540.73,105.55 L540.83,106.37 L540.92,107.19 L541.00,108.00 L541.08,108.80 L541.14,109.60 L541.20,110.39 L541.26,111.19 L541.31,111.98 L541.35,112.78 L541.39,113.58 L541.43,114.38 L541.46,115.19 L541.50,116.00 L541.53,116.86 L541.56,117.77 L541.59,118.73 L541.61,119.70 L541.63,120.65 L541.65,121.56 L541.66,122.41 L541.68,123.17 L541.69,123.80 L541.70,124.30" fill="none" stroke="#e0282e" stroke-width="1.05" stroke-linejoin="round"/>
<path d="M407.60,41.80 L409.60,42.33 L411.60,42.87 L413.60,43.40 L415.60,43.93 L417.60,44.47 L419.60,45.00 L421.60,45.53 L423.60,46.07 L425.60,46.60 L427.60,47.13 L429.60,47.67 L431.60,48.20 L433.60,48.73 L435.60,49.26 L437.60,49.80 L439.60,50.33 L441.60,50.86 L443.60,51.40 L445.60,51.93 L447.60,52.46 L449.60,53.00 L451.60,53.53 L453.60,54.06 L455.60,54.60 L457.60,55.13 L459.60,55.66 L461.60,56.20 L463.60,56.73 L465.60,57.26 L467.60,57.80 L469.60,58.33 L471.60,58.86 L473.60,59.40 L475.60,59.93 L477.60,60.46 L479.60,61.00 L481.60,61.53 L483.60,62.06 L485.60,62.59 L487.60,63.13 L489.60,63.66 L491.60,64.19 L493.60,64.73 L495.60,65.26 L495.70,65.27 L495.79,65.27 L495.90,65.25 L496.02,65.24 L496.16,65.24 L496.34,65.26 L496.57,65.32 L496.85,65.42 L497.19,65.57 L497.60,65.79 L498.11,66.09 L498.73,66.46 L499.43,66.90 L500.18,67.37 L500.98,67.88 L501.78,68.41 L502.56,68.93 L503.31,69.45 L504.00,69.95 L504.60,70.40 L505.12,70.82 L505.60,71.22 L506.04,71.62 L506.45,72.00 L506.83,72.38 L507.19,72.76 L507.55,73.15 L507.89,73.55 L508.24,73.97 L508.60,74.40 L508.96,74.85 L509.32,75.32 L509.67,75.81 L510.01,76.30 L510.35,76.80 L510.68,77.30 L511.00,77.81 L511.31,78.31 L511.61,78.81 L511.90,79.30 L512.18,79.78 L512.45,80.24 L512.71,80.70 L512.96,81.15 L513.21,81.61 L513.44,82.07 L513.67,82.55 L513.89,83.04 L514.10,83.56 L514.30,84.10 L514.49,84.68 L514.67,85.29 L514.85,85.93 L515.01,86.59 L515.16,87.26 L515.31,87.93 L515.46,88.60 L515.61,89.25 L515.75,89.89 L515.90,90.50 L516.05,91.08 L516.20,91.62 L516.35,92.14 L516.50,92.64 L516.64,93.15 L516.79,93.66 L516.92,94.19 L517.06,94.75 L517.18,95.35 L517.30,96.00 L517.41,96.70 L517.52,97.44 L517.62,98.22 L517.72,99.02 L517.81,99.84 L517.90,100.68 L517.98,101.52 L518.06,102.36 L518.13,103.19 L518.20,104.00 L518.26,104.81 L518.32,105.64 L518.37,106.47 L518.41,107.31 L518.45,108.14 L518.49,108.96 L518.52,109.76 L518.55,110.54 L518.57,111.29 L518.60,112.00 L518.62,112.70 L518.64,113.39 L518.66,114.08 L518.67,114.76 L518.68,115.40 L518.68,116.00 L518.69,116.56 L518.69,117.05 L518.70,117.46 L518.70,117.80" fill="none" stroke="#111" stroke-width="1.15" stroke-linejoin="round"/>
<path d="M407.60,44.60 L409.60,45.11 L411.60,45.62 L413.60,46.14 L415.60,46.65 L417.60,47.16 L419.60,47.67 L421.60,48.18 L423.60,48.70 L425.60,49.21 L427.60,49.72 L429.60,50.23 L431.60,50.74 L433.60,51.26 L435.60,51.77 L437.60,52.28 L439.60,52.79 L441.60,53.30 L443.60,53.82 L445.60,54.33 L447.60,54.84 L449.60,55.35 L451.60,55.86 L453.60,56.38 L455.60,56.89 L457.60,57.40 L459.60,57.91 L461.60,58.42 L463.60,58.94 L465.60,59.45 L467.60,59.96 L469.60,60.47 L471.60,60.98 L473.60,61.50 L475.60,62.01 L477.60,62.52 L479.60,63.03 L481.60,63.54 L483.60,64.06 L485.60,64.57 L487.60,65.08 L489.60,65.59 L491.60,66.10 L493.60,66.62 L495.60,67.13 L497.60,67.64 L499.60,68.15 L501.60,68.85 L503.60,69.58 L505.60,70.32 L507.60,71.06 L509.60,71.80 L511.60,72.54 L513.60,73.28 L515.00,73.80 L516.19,74.25 L517.72,74.83 L519.53,75.50 L521.56,76.25 L523.75,77.07 L526.04,77.95 L528.37,78.85 L530.68,79.77 L532.91,80.70 L535.00,81.60 L537.02,82.51 L539.08,83.46 L541.16,84.44 L543.24,85.45 L545.31,86.47 L547.36,87.50 L549.37,88.54 L551.32,89.57 L553.20,90.59 L555.00,91.60 L556.70,92.59 L558.32,93.58 L559.87,94.56 L561.36,95.55 L562.81,96.53 L564.24,97.52 L565.66,98.50 L567.08,99.50 L568.52,100.49 L570.00,101.50 L571.50,102.51 L573.00,103.54 L574.50,104.56 L576.00,105.60 L577.50,106.63 L579.00,107.67 L580.50,108.70 L582.00,109.74 L583.50,110.77 L585.00,111.80 L586.50,112.82 L588.00,113.84 L589.50,114.85 L591.00,115.87 L592.50,116.88 L594.00,117.90 L595.50,118.91 L597.00,119.94 L598.50,120.96 L600.00,122.00 L601.50,123.04 L603.00,124.09 L604.50,125.15 L606.00,126.21 L607.50,127.28 L609.00,128.34 L610.50,129.41 L612.00,130.47 L613.50,131.54 L615.00,132.60 L616.50,133.66 L618.00,134.72 L619.50,135.78 L621.00,136.84 L622.50,137.90 L624.00,138.96 L625.50,140.02 L627.00,141.08 L628.50,142.14 L630.00,143.20 L631.52,144.28 L633.08,145.38 L634.66,146.49 L636.24,147.61 L637.81,148.72 L639.36,149.81 L640.87,150.88 L642.32,151.90 L643.70,152.88 L645.00,153.80 L646.23,154.67 L647.40,155.50 L648.52,156.30 L649.60,157.07 L650.62,157.80 L651.60,158.49 L652.52,159.15 L653.40,159.77 L654.23,160.36 L655.00,160.90 L655.70,161.39 L656.33,161.81 L656.88,162.19 L657.38,162.52 L657.84,162.82 L658.27,163.10 L658.69,163.38 L659.11,163.67 L659.54,163.97 L660.00,164.30 L660.48,164.65 L660.96,165.00 L661.44,165.35 L661.91,165.71 L662.38,166.06 L662.84,166.42 L663.30,166.78 L663.74,167.15 L664.18,167.52 L664.60,167.90 L665.01,168.28 L665.41,168.67 L665.80,169.06 L666.18,169.46 L666.55,169.86 L666.91,170.27 L667.27,170.67 L667.62,171.08 L667.96,171.49 L668.30,171.90 L668.63,172.31 L668.95,172.72 L669.27,173.14 L669.58,173.56 L669.88,173.97 L670.18,174.40 L670.47,174.82 L670.75,175.24 L671.03,175.67 L671.30,176.10 L671.57,176.53 L671.83,176.96 L672.08,177.40 L672.33,177.83 L672.58,178.27 L672.81,178.71 L673.04,179.15 L673.27,179.60 L673.49,180.05 L673.70,180.50 L673.91,180.95 L674.10,181.40 L674.29,181.85 L674.48,182.30 L674.66,182.75 L674.83,183.21 L675.00,183.69 L675.17,184.17 L675.33,184.68 L675.50,185.20 L675.67,185.74 L675.83,186.28 L675.99,186.83 L676.16,187.40 L676.31,187.97 L676.46,188.57 L676.61,189.19 L676.75,189.83 L676.88,190.50 L677.00,191.20 L677.11,191.94 L677.21,192.74 L677.30,193.58 L677.38,194.44 L677.46,195.32 L677.54,196.20 L677.60,197.07 L677.67,197.92 L677.74,198.73 L677.80,199.50 L677.86,200.23 L677.92,200.94 L677.98,201.63 L678.04,202.30 L678.09,202.96 L678.14,203.59 L678.18,204.22 L678.22,204.82 L678.26,205.42 L678.30,206.00 L678.33,206.58 L678.36,207.18 L678.39,207.77 L678.41,208.35 L678.43,208.91 L678.45,209.43 L678.46,209.91 L678.48,210.34 L678.49,210.71 L678.50,211.00" fill="none" stroke="#1f9060" stroke-width="1.15" stroke-linejoin="round"/>
<text x="456.2" y="45.6" font-size="15.6" font-family="'Liberation Serif', serif" fill="#111" stroke="#111" stroke-width="0.4">κ</text>
<text x="463.6" y="37.7" font-size="11.6" letter-spacing="-0.45" font-family="'Liberation Serif', serif" fill="#111">−3/4</text>
<text x="634.6" y="135.7" font-size="16.8" font-family="'Liberation Serif', serif" fill="#111" stroke="#111" stroke-width="0.4">κ</text>
<text x="642.2" y="126.6" font-size="11.2" font-family="'Liberation Serif', serif" fill="#111">−2</text>
<path d="M603.8,33.00H615.2" stroke="#000" stroke-width="1.0"/>
<text x="623.7" y="37.70" font-size="12.4" font-family="'Liberation Serif', serif" fill="#111">τ=0.1</text>
<path d="M603.8,47.50H615.2" stroke="#e03040" stroke-width="1.0"/>
<text x="623.7" y="52.20" font-size="12.4" font-family="'Liberation Serif', serif" fill="#111">τ=0.5</text>
<path d="M603.8,62.20H615.2" stroke="#5868b0" stroke-width="1.0" stroke-dasharray="7,2.4,1.2,10"/>
<text x="623.7" y="66.90" font-size="12.4" font-family="'Liberation Serif', serif" fill="#111">τ=0.85</text>
<path d="M603.8,76.20H615.2" stroke="#f0b868" stroke-width="1.0"/>
<text x="623.7" y="80.90" font-size="12.4" font-family="'Liberation Serif', serif" fill="#111">τ=3</text>
<path d="M603.8,90.10H615.2" stroke="#bca4ac" stroke-width="1.0"/>
<text x="623.7" y="94.80" font-size="12.4" font-family="'Liberation Serif', serif" fill="#111">τ=6</text>
<path d="M603.8,104.10H615.2" stroke="#2a9a6a" stroke-width="1.0"/>
<text x="623.7" y="108.80" font-size="12.4" font-family="'Liberation Serif', serif" fill="#111">τ=12</text>
<path d="M519,159.8L547.2,129.9" stroke="#111" stroke-width="1.1"/>
<path d="M549.7,127.1 L545.0,129.2 L547.9,131.9 Z" fill="#111"/>
<text x="471" y="172.5" font-size="12.2" fill="#111">Present time</text>
<text x="541.8" y="172.6" font-size="12.9" fill="#111" font-family="'Liberation Serif', serif">τ<tspan font-size="8.4" dy="3.4">0</tspan><tspan dy="-3.4">=0.85</tspan></text>
</svg></body></html>
